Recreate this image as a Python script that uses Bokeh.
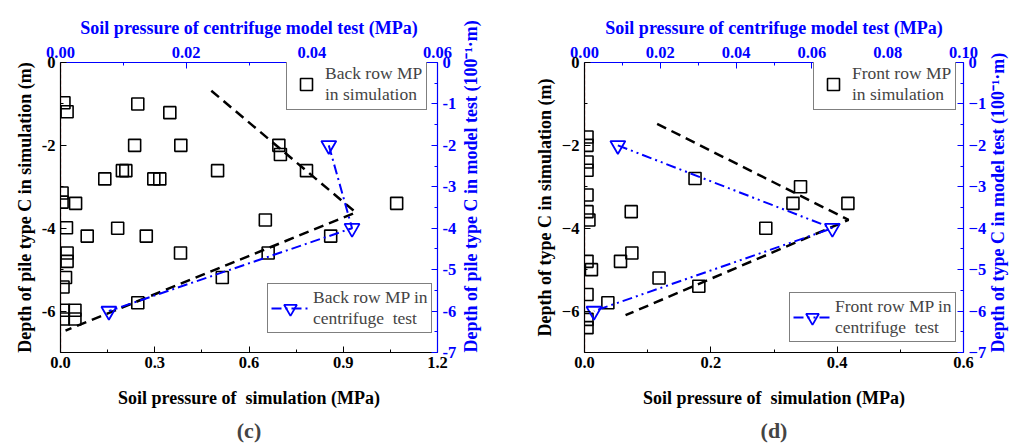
import math
from bokeh.plotting import figure
from bokeh.models import Range1d, LinearAxis, FixedTicker, Legend, LegendItem, Title
from bokeh.layouts import row
from bokeh.embed import file_html
from bokeh.resources import INLINE

# ---------------- panel (c): back row ----------------
c_sim_pressure = [0.011, 0.021, 0.246, 0.348, 0.236, 0.383, 0.695, 0.700, 0.783, 0.500,
                  0.197, 0.208, 0.141, 0.297, 0.316, 0.005, 0.005, 0.048, 1.070, 0.652,
                  0.019, 0.182, 0.085, 0.273, 0.860, 0.382, 0.661, 0.021, 0.021, 0.016,
                  0.515, 0.008, 0.246, 0.009, 0.046, 0.009, 0.046]
c_sim_depth = [-0.97, -1.19, -1.0, -1.21, -2.0, -2.0, -2.0, -2.22, -2.61, -2.61,
               -2.61, -2.61, -2.81, -2.81, -2.81, -3.15, -3.37, -3.4, -3.4, -3.8,
               -3.99, -4.0, -4.19, -4.19, -4.19, -4.6, -4.6, -4.6, -4.8, -5.19,
               -5.19, -5.42, -5.8, -5.98, -5.98, -6.19, -6.19]
c_fit_pressure = [0.48, 0.94, 0.016]
c_fit_depth = [-0.68, -3.62, -6.47]
c_test_pressure = [0.0427, 0.0464, 0.0077]
c_test_depth = [-2.0, -4.0, -6.0]

# ---------------- panel (d): front row ----------------
d_sim_pressure = [0.004, 0.004, 0.004, 0.004, 0.004, 0.004, 0.007, 0.175, 0.342, 0.330,
                  0.417, 0.074, 0.287, 0.075, 0.057, 0.004, 0.011, 0.118, 0.181, 0.004,
                  0.037, 0.004, 0.004]
d_sim_depth = [-1.8, -2.0, -2.4, -2.6, -3.2, -3.6, -3.8, -2.8, -3.0, -3.4,
               -3.4, -3.6, -4.0, -4.6, -4.8, -4.8, -5.0, -5.2, -5.4, -5.6,
               -5.8, -6.2, -6.4]
d_fit_pressure = [0.115, 0.418, 0.065]
d_fit_depth = [-1.48, -3.8, -6.1]
d_test_pressure = [0.0088, 0.0654, 0.0025]
d_test_depth = [-2.0, -4.0, -6.0]

zero_pressure = [0.0, 0.0]
zero_depth = [0.0, -7.0]

FONT = "Liberation Serif"
BLUE = "#0000ff"


def style_axis(ax, color, ticks, minor, labels, standoff, label_standoff):
    ax.ticker = FixedTicker(ticks=ticks, minor_ticks=minor)
    ax.major_label_overrides = {t: l for t, l in zip(ticks, labels)}
    ax.axis_line_color = color
    ax.axis_line_width = 1.2
    ax.major_tick_line_color = color
    ax.minor_tick_line_color = color
    ax.major_tick_in = 6
    ax.major_tick_out = 0
    ax.minor_tick_in = 3
    ax.minor_tick_out = 0
    ax.major_label_text_color = color
    ax.major_label_text_font = FONT
    ax.major_label_text_font_style = "bold"
    ax.major_label_text_font_size = "16.5px"
    ax.major_label_standoff = standoff
    ax.axis_label_text_color = color
    ax.axis_label_text_font = FONT
    ax.axis_label_text_font_style = "bold"
    ax.axis_label_text_font_size = "18px"
    ax.axis_label_standoff = label_standoff


def make_panel(sim_p, sim_d, fit_p, fit_d, test_p, test_d, xmax, xticks, xminor, xlabels,
               tmax, tticks, tminor, tlabels, ylabels, rlabels, ytitle, rtitle,
               sim_name, test_name, test_dash, border_l, border_r, caption,
               leg1_loc, leg2_loc, fw, r_standoff):
    p = figure(frame_width=fw, frame_height=290, x_range=Range1d(0, xmax), y_range=Range1d(-7, 0),
               output_backend="svg", toolbar_location=None,
               min_border_left=border_l, min_border_right=border_r,
               min_border_top=62, min_border_bottom=88)
    p.extra_x_ranges = {"test": Range1d(0, tmax)}
    p.extra_y_ranges = {"test": Range1d(-7, 0)}
    p.grid.visible = False
    p.outline_line_color = None
    p.background_fill_color = "white"
    p.border_fill_color = "white"

    bottom = p.below[0]
    left = p.left[0]
    top = LinearAxis(x_range_name="test", axis_label="Soil pressure of centrifuge model test (MPa)")
    p.add_layout(top, "above")
    right = LinearAxis(y_range_name="test", axis_label=rtitle)
    p.add_layout(right, "right")

    style_axis(bottom, "black", xticks, xminor, xlabels, 4, 17)
    bottom.axis_label = "Soil pressure of \u00a0simulation (MPa)"
    style_axis(top, BLUE, tticks, tminor, tlabels, 5, 6)
    style_axis(left, "black", [0, -2, -4, -6], [-1, -3, -5, -7], ylabels, 5, 4)
    left.axis_label = ytitle
    rt = [0, -1, -2, -3, -4, -5, -6, -7]
    style_axis(right, BLUE, rt, [-0.5, -1.5, -2.5, -3.5, -4.5, -5.5, -6.5], rlabels, 5, r_standoff)
    right.axis_label_orientation = math.pi / 2
    try:
        right.axis_label_align = "start"
    except Exception:
        pass

    p.line(zero_pressure, zero_depth, line_color="red", line_dash="4 2", line_width=1.2)
    sq = p.scatter(sim_p, sim_d, marker="square", size=12, fill_color=None,
                   line_color="black", line_width=1.6)
    p.line(fit_p, fit_d, line_color="black", line_dash="10 6", line_width=2.5)
    tl = p.line(test_p, test_d, x_range_name="test", y_range_name="test",
                line_color=BLUE, line_dash=test_dash, line_width=2)
    tm = p.scatter(test_p, test_d, x_range_name="test", y_range_name="test",
                   marker="inverted_triangle", size=15, fill_color=None,
                   line_color=BLUE, line_width=1.8)

    specs = (([LegendItem(label=sim_name, renderers=[sq])], leg1_loc, 30, 30, 4),
             ([LegendItem(label=test_name, renderers=[tl, tm])], leg2_loc, 38, 32, 3))
    for items, loc, gw, gh, pad in specs:
        lg = Legend(items=items, location=loc)
        lg.label_text_font = FONT
        lg.label_text_font_size = "17.5px"
        lg.label_text_line_height = 1.1
        lg.glyph_width = gw
        lg.glyph_height = gh
        lg.label_standoff = 4
        lg.padding = pad
        lg.border_line_color = "black"
        lg.border_line_width = 1.2
        lg.background_fill_alpha = 1.0
        p.add_layout(lg, "center")

    cap = Title(text=caption, align="center", text_font=FONT, text_font_style="bold",
                text_font_size="22px", standoff=10)
    p.add_layout(cap, "below")
    return p


p1 = make_panel(c_sim_pressure, c_sim_depth, c_fit_pressure, c_fit_depth, c_test_pressure, c_test_depth,
                1.2, [0, 0.3, 0.6, 0.9, 1.2], [0.15, 0.45, 0.75, 1.05], ["0.0", "0.3", "0.6", "0.9", "1.2"],
                0.06, [0, 0.02, 0.04, 0.06], [0.01, 0.03, 0.05], ["0.00", "0.02", "0.04", "0.06"],
                ["0", "-2", "-4", "-6"], ["0", "-1", "-2", "-3", "-4", "-5", "-6", "-7"],
                "Depth of pile type C in simulation (m)",
                "Depth of pile type C in model test (100\u207b\u00b9\u00b7m)",
                "Back row MP\nin simulation", "Back row MP in\ncentrifuge \u00a0test", "10 4 2 4",
                60, 71, "(c)", (226, 242), (207, 19), 377, 12)

p2 = make_panel(d_sim_pressure, d_sim_depth, d_fit_pressure, d_fit_depth, d_test_pressure, d_test_depth,
                0.6, [0, 0.2, 0.4, 0.6], [0.1, 0.3, 0.5], ["0.0", "0.2", "0.4", "0.6"],
                0.1, [0, 0.02, 0.04, 0.06, 0.08, 0.1], [0.01, 0.03, 0.05, 0.07, 0.09],
                ["0.00", "0.02", "0.04", "0.06", "0.08", "0.10"],
                ["0", "\u22122", "\u22124", "\u22126"],
                ["0", "\u22121", "\u22122", "\u22123", "\u22124", "\u22125", "\u22126", "\u22127"],
                "Depth of type C in simulation (m)",
                "Depth of type C in model test (100\u207b\u00b9\u00b7m)",
                "Front row MP\nin simulation", "Front row MP in\ncentrifuge \u00a0test", "10 4 2 4 2 4",
                76, 54, "(d)", (229, 242), (205, 10), 379, 9)

layout = row(p1, p2)
open("out.html", "w").write(file_html(layout, INLINE))
